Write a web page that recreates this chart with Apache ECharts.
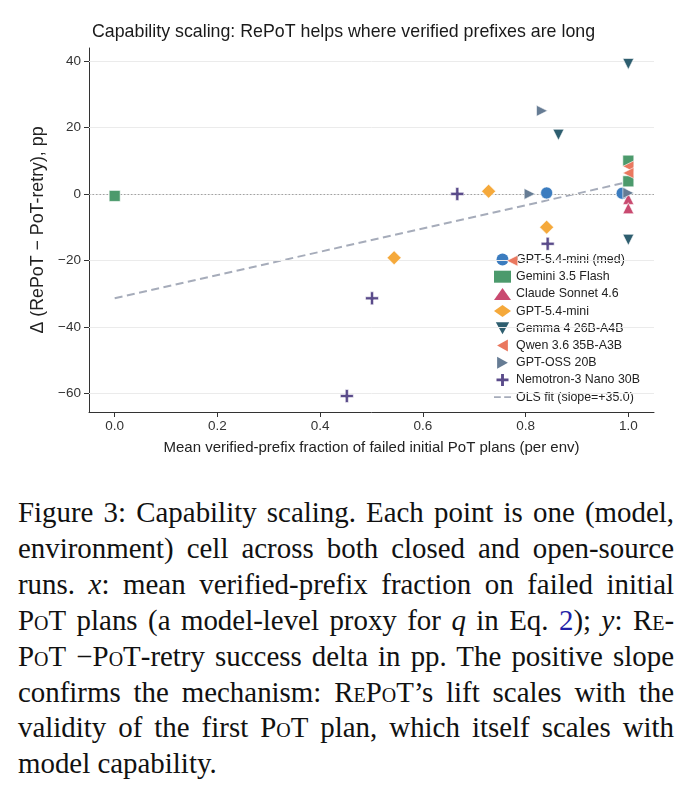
<!DOCTYPE html>
<html>
<head>
<meta charset="utf-8">
<script src="https://cdn.jsdelivr.net/npm/echarts@6/dist/echarts.min.js"></script>
<style>
body { margin: 0; background: #fff; }
#chart { position: absolute; left: 0; top: 0; width: 692px; height: 480px; }
#caption { position: absolute; left: 18px; top: 495px; width: 656px; font-family: "Liberation Serif", "DejaVu Serif", serif; font-size: 28.9px; line-height: 35.9px; color: #111; }
#caption div { text-align: justify; text-align-last: justify; }
#caption div.last { text-align-last: left; }
.sc { font-variant: small-caps; }
.m { font-style: italic; }
.ref { color: #1f1fa8; }
</style>
</head>
<body>
<div id="chart"></div>
<div id="caption">
  <div>Figure 3: Capability scaling. Each point is one (model,</div>
  <div>environment) cell across both closed and open-source</div>
  <div>runs. <span class="m">x</span>: mean verified-prefix fraction on failed initial</div>
  <div><span class="sc">PoT</span> plans (a model-level proxy for <span class="m">q</span> in Eq. <span class="ref">2</span>); <span class="m">y</span>: <span class="sc">Re</span>-</div>
  <div><span class="sc">PoT</span> &minus;<span class="sc">PoT</span>-retry success delta in pp. The positive slope</div>
  <div>confirms the mechanism: <span class="sc">RePoT</span>&rsquo;s lift scales with the</div>
  <div>validity of the first <span class="sc">PoT</span> plan, which itself scales with</div>
  <div class="last">model capability.</div>
</div>
<script>
// tick values
var xTicks = [0, 0.2, 0.4, 0.6, 0.8, 1.0]
var yTicks = [-60, -40, -20, 0, 20, 40]

// one (model, env) cell per point
var gptMedX = [0.841, 0.988]
var gptMedY = [0.3, 0.2]
var geminiX = [0.0, 1.0, 1.0]
var geminiY = [-0.6, 10.0, 3.8]
var claudeX = [1.0, 1.0]
var claudeY = [-1.5, -4.3]
var gptMiniX = [0.544, 0.728, 0.841]
var gptMiniY = [-19.2, 0.8, -10.0]
var gemmaX = [0.864, 1.0, 1.0]
var gemmaY = [17.8, 39.1, -13.8]
var qwenX = [0.774, 1.0, 1.0]
var qwenY = [-20.1, 8.3, 6.3]
var ossX = [0.832, 0.808, 1.0]
var ossY = [25.0, 0.0, 0.3]
var nemoX = [0.452, 0.501, 0.667, 0.843]
var nemoY = [-60.8, -31.4, 0.0, -15.0]

// OLS fit end points
var olsX = [0.0, 1.0]
var olsY = [-31.4, 3.6]

function pts (xs, ys) {
  return xs.map(function (x, i) { return [x, ys[i]] })
}

function minusFmt (v) {
  return v < 0 ? '\u2212' + Math.abs(v) : String(v)
}

var font = '"Liberation Sans", Arial, sans-serif'
var olsColor = '#a6acba'
var nemoColor = '#5a4b8a'

function scatter (name, xs, ys, symbol, size, color) {
  return {
    name: name,
    type: 'scatter',
    data: pts(xs, ys),
    symbol: symbol,
    symbolSize: size,
    z: 5,
    itemStyle: { color: color, borderColor: '#fff', borderWidth: 0.6, opacity: 1 }
  }
}

var plusPath = 'path://M3.8,0 L6.2,0 L6.2,3.8 L10,3.8 L10,6.2 L6.2,6.2 L6.2,10 L3.8,10 L3.8,6.2 L0,6.2 L0,3.8 L3.8,3.8 Z'
var downTri = 'path://M0,0 L10,0 L5,9 Z'
var leftTri = 'path://M9,0 L9,10 L0,5 Z'
var rightTri = 'path://M0,0 L0,10 L9,5 Z'
var dashIcon = 'path://M0,4 L8,4 L8,6 L0,6 Z M12,4 L20,4 L20,6 L12,6 Z'

var myChart = echarts.init(document.getElementById('chart'))

var option = {
  backgroundColor: '#fff',
  animation: false,
  textStyle: { fontFamily: font },
  title: {
    text: 'Capability scaling: RePoT helps where verified prefixes are long',
    left: 87,
    top: 18,
    textStyle: { fontFamily: font, fontSize: 17.8, fontWeight: 'normal', color: '#1a1a1a' }
  },
  grid: { left: 89, right: 38, top: 48, bottom: 68 },
  legend: {
    orient: 'vertical',
    left: 489,
    top: 248,
    itemWidth: 17,
    itemHeight: 12,
    itemGap: 4.2,
    itemTextGap: 19,
    selectedMode: false,
    itemStyle: { borderWidth: 0 },
    textStyle: { fontFamily: font, fontSize: 12.4, color: '#222', lineHeight: 13 },
    data: ['GPT-5.4-mini (med)', 'Gemini 3.5 Flash', 'Claude Sonnet 4.6', 'GPT-5.4-mini',
      'Gemma 4 26B-A4B', 'Qwen 3.6 35B-A3B', 'GPT-OSS 20B',
      { name: 'Nemotron-3 Nano 30B', icon: plusPath, itemStyle: { color: nemoColor, borderWidth: 0 } },
      { name: 'OLS fit (slope=+35.0)', icon: dashIcon, itemStyle: { color: olsColor, borderWidth: 0 } }]
  },
  xAxis: {
    type: 'value',
    min: -0.05,
    max: 1.05,
    name: 'Mean verified-prefix fraction of failed initial PoT plans (per env)',
    nameLocation: 'middle',
    nameGap: 28,
    nameTextStyle: { fontFamily: font, fontSize: 15, color: '#222' },
    splitLine: { show: false },
    axisLine: { show: true, onZero: false, lineStyle: { color: '#333', width: 1 } },
    axisTick: { show: true, customValues: xTicks, length: 5, lineStyle: { color: '#333', width: 1 } },
    axisLabel: {
      customValues: xTicks,
      margin: 7,
      fontFamily: font,
      fontSize: 13.5,
      color: '#333',
      formatter: function (v) { return v.toFixed(1) }
    }
  },
  yAxis: {
    type: 'value',
    min: -65.6,
    max: 43.9,
    name: '\u0394 (RePoT \u2212 PoT-retry), pp',
    nameLocation: 'middle',
    nameGap: 34,
    nameTextStyle: { fontFamily: font, fontSize: 17.8, color: '#222' },
    splitLine: { show: false },
    axisLine: { show: true, onZero: false, lineStyle: { color: '#333', width: 1 } },
    axisTick: { show: true, customValues: yTicks, length: 5, lineStyle: { color: '#333', width: 1 } },
    axisLabel: {
      customValues: yTicks,
      margin: 8,
      fontFamily: font,
      fontSize: 13.5,
      color: '#333',
      formatter: minusFmt
    }
  },
  series: [
    {
      name: 'grid',
      type: 'scatter',
      data: [],
      silent: true,
      z: 1,
      markLine: {
        silent: true,
        symbol: ['none', 'none'],
        label: { show: false },
        lineStyle: { color: '#ebebeb', width: 1, type: 'solid' },
        data: yTicks.map(function (v) { return { yAxis: v } })
      }
    },
    {
      name: 'zero',
      type: 'scatter',
      data: [],
      silent: true,
      z: 2,
      markLine: {
        silent: true,
        symbol: ['none', 'none'],
        label: { show: false },
        lineStyle: { color: '#9a9a9a', width: 0.9, type: [1.5, 2] },
        data: [{ yAxis: 0 }]
      }
    },
    {
      name: 'OLS fit (slope=+35.0)',
      type: 'line',
      data: pts(olsX, olsY),
      symbol: 'none',
      z: 3,
      itemStyle: { color: olsColor },
      lineStyle: { color: olsColor, width: 2, type: [8, 4.5] }
    },
    scatter('GPT-5.4-mini (med)', gptMedX, gptMedY, 'circle', 12, '#3b7cbf'),
    scatter('Gemini 3.5 Flash', geminiX, geminiY, 'rect', 11, '#4c9a6c'),
    scatter('Claude Sonnet 4.6', claudeX, claudeY, 'triangle', 11, '#c94a70'),
    scatter('GPT-5.4-mini', gptMiniX, gptMiniY, 'diamond', 14, '#f5a93b'),
    scatter('Gemma 4 26B-A4B', gemmaX, gemmaY, downTri, 11, '#2e5e6f'),
    scatter('Qwen 3.6 35B-A3B', qwenX, qwenY, leftTri, 11, '#ea785f'),
    scatter('GPT-OSS 20B', ossX, ossY, rightTri, 11, '#667c94'),
    scatter('Nemotron-3 Nano 30B', nemoX, nemoY, plusPath, 13, nemoColor)
  ]
}

myChart.setOption(option)
</script>
</body>
</html>
